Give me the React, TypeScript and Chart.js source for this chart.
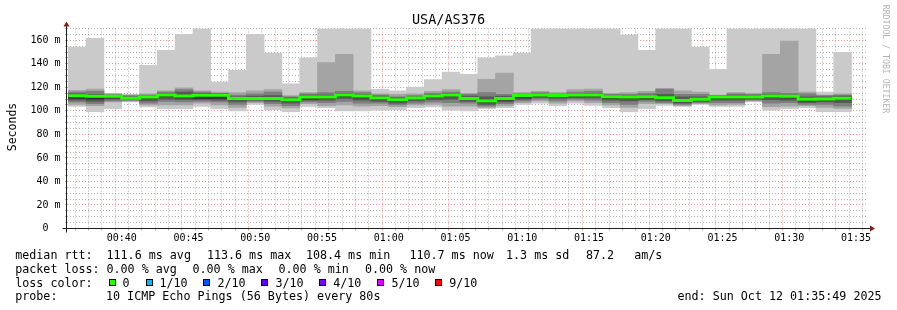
import React, { useEffect, useRef } from 'react';
import { Chart, registerables } from 'chart.js';

Chart.register(...registerables);

// ---- data (seconds since 00:00, values in ms) ----
const stepStarts = [2160, 2240, 2320, 2400, 2480, 2560, 2640, 2720, 2800, 2880, 2960, 3040, 3120, 3200, 3280, 3360, 3440, 3520, 3600, 3680, 3760, 3840, 3920, 4000, 4080, 4160, 4240, 4320, 4400, 4480, 4560, 4640, 4720, 4800, 4880, 4960, 5040, 5120, 5200, 5280, 5360, 5440, 5520, 5600];
const stepSeconds = 80;

const medianMs = [112.8, 112.4, 112.4, 110.7, 111.8, 113.5, 112.7, 113.2, 113.2, 110.4, 110.4, 110.4, 109.5, 111.8, 111.8, 113.5, 112.7, 111.0, 109.5, 111.0, 112.7, 113.5, 110.4, 108.4, 110.4, 113.0, 113.5, 113.0, 113.5, 113.5, 112.0, 111.8, 112.0, 111.2, 108.7, 109.8, 111.8, 111.8, 111.8, 112.7, 112.4, 109.8, 110.1, 110.7];
const maxMs = [154.3, 161.7, 115, 114, 138.7, 151.5, 165, 170, 124.5, 134.5, 165, 149, 123, 145, 170, 170, 170, 118.3, 117, 120.3, 126.5, 133, 131, 145, 146.7, 149, 170, 170, 170, 170, 170, 164.5, 151.5, 170, 170, 154.3, 135.3, 170, 170, 170, 170, 170, 116, 149.8];
const p9Ms = [117.5, 118.5, 114.5, 113.5, 114.5, 117.0, 119.5, 117.0, 116.0, 115.5, 117.0, 118.0, 113.0, 115.5, 141.0, 148.0, 117.0, 114.5, 114.0, 114.5, 116.5, 118.0, 115.0, 126.8, 132.2, 115.5, 116.5, 115.5, 118.0, 118.5, 115.0, 115.5, 116.5, 119.0, 117.0, 116.0, 113.5, 115.5, 115.0, 148.0, 159.4, 116.0, 113.5, 114.5];
const p8Ms = [116.0, 116.5, 113.8, 113.0, 113.5, 116.0, 118.0, 116.0, 115.0, 113.5, 114.5, 116.0, 112.0, 114.5, 115.5, 116.5, 115.5, 113.5, 112.0, 113.0, 115.0, 116.0, 114.0, 115.5, 114.0, 114.5, 115.5, 114.5, 116.0, 116.5, 114.0, 114.0, 115.0, 118.5, 114.0, 114.0, 113.0, 114.5, 114.0, 115.5, 115.0, 114.5, 113.0, 113.5];
const p7Ms = [114.5, 114.0, 113.2, 112.0, 112.8, 115.0, 116.0, 114.8, 114.5, 112.0, 112.5, 113.0, 111.0, 113.5, 113.5, 115.0, 114.0, 112.5, 111.0, 112.0, 114.0, 115.0, 112.5, 112.0, 112.5, 114.0, 114.5, 114.0, 114.5, 115.0, 113.2, 113.0, 113.5, 114.0, 112.0, 112.0, 112.8, 113.5, 113.0, 114.0, 113.5, 112.0, 112.0, 112.5];
const p6Ms = [113.5, 113.0, 112.8, 111.3, 112.2, 114.0, 113.5, 113.8, 113.8, 111.0, 111.0, 111.0, 110.0, 112.3, 112.3, 114.0, 113.2, 111.5, 110.0, 111.5, 113.2, 114.0, 111.0, 109.0, 111.0, 113.5, 114.0, 113.5, 114.0, 114.0, 112.5, 112.3, 112.5, 112.0, 109.5, 110.5, 112.3, 112.3, 112.3, 113.2, 112.9, 110.3, 110.6, 111.2];
const p5Ms = [110.5, 110.0, 111.0, 110.0, 110.5, 112.0, 111.0, 110.5, 110.5, 109.5, 109.8, 109.5, 108.5, 110.0, 110.5, 112.0, 111.0, 109.5, 108.0, 110.0, 111.5, 112.5, 109.5, 107.0, 109.0, 111.0, 112.5, 112.0, 112.5, 112.5, 110.5, 110.5, 110.5, 110.0, 107.5, 109.0, 110.5, 110.5, 110.8, 111.5, 111.0, 108.5, 109.0, 109.5];
const p4Ms = [109.0, 108.0, 110.0, 109.5, 108.5, 110.0, 109.5, 109.5, 109.0, 107.5, 109.0, 108.0, 106.5, 109.0, 109.0, 110.5, 109.0, 108.0, 106.5, 108.5, 109.5, 110.0, 108.0, 105.5, 107.5, 110.0, 111.5, 110.5, 111.0, 111.0, 109.0, 108.5, 109.5, 108.5, 106.5, 108.0, 109.0, 109.0, 110.0, 109.5, 109.0, 107.0, 107.5, 107.0];
const p3Ms = [107.5, 106.0, 108.5, 108.8, 106.5, 108.0, 107.5, 108.0, 107.5, 105.5, 108.0, 106.0, 104.5, 107.5, 107.0, 108.0, 106.5, 106.5, 105.0, 106.5, 107.5, 107.0, 106.5, 104.0, 106.0, 108.5, 110.0, 108.5, 110.0, 109.0, 107.0, 105.5, 108.0, 107.0, 105.5, 107.0, 107.0, 107.0, 109.0, 106.5, 107.0, 105.5, 105.5, 104.0];
const p2Ms = [105.5, 104.5, 107.5, 108.2, 105.0, 105.0, 105.0, 106.5, 105.0, 103.0, 107.0, 104.0, 102.5, 106.0, 104.5, 105.0, 104.0, 104.5, 103.5, 105.0, 105.5, 104.0, 104.0, 103.0, 104.5, 107.0, 108.5, 106.5, 108.5, 107.0, 105.0, 103.0, 106.0, 106.0, 104.5, 106.0, 105.0, 105.5, 108.5, 103.5, 104.0, 104.5, 103.0, 102.0];
const minMs = [103.8, 99.2, 101.9, 107.5, 103.3, 101.9, 101.9, 103.8, 101.9, 100.0, 105.5, 101.0, 99.2, 103.8, 102.8, 100.0, 100.0, 100.6, 101.0, 102.8, 103.3, 100.6, 100.0, 101.9, 102.8, 105.5, 106.6, 104.4, 106.6, 104.7, 102.8, 99.2, 101.9, 104.7, 103.8, 105.5, 103.8, 103.8, 107.5, 100.6, 101.9, 102.8, 99.2, 99.2];

const xMajorValues = [2400, 2700, 3000, 3300, 3600, 3900, 4200, 4500, 4800, 5100, 5400, 5700];
const xMajorLabels = ['00:40', '00:45', '00:50', '00:55', '01:00', '01:05', '01:10', '01:15', '01:20', '01:25', '01:30', '01:35'];
const yMajorValues = [0, 20, 40, 60, 80, 100, 120, 140, 160];
const yMajorLabels = ['0  ', '20 m', '40 m', '60 m', '80 m', '100 m', '120 m', '140 m', '160 m'];

const titleText = 'USA/AS376';
const yTitle = 'Seconds';
const medianLegend = ['median rtt:', '111.6 ms avg', '113.6 ms max', '108.4 ms min', '110.7 ms now', '1.3 ms sd', '87.2', 'am/s'];
const lossLegend = ['packet loss:', '0.00 % avg', '0.00 % max', '0.00 % min', '0.00 % now'];
const lossColorTitle = 'loss color:';
const lossLabels = ['0', '1/10', '2/10', '3/10', '4/10', '5/10', '9/10'];
const lossColors = ['#26ff00', '#00b8ff', '#0059ff', '#5e00ff', '#7e00ff', '#dd00ff', '#ff0000'];
const probeLegend = ['probe:', '10 ICMP Echo Pings (56 Bytes) every 80s'];
const endText = 'end: Sun Oct 12 01:35:49 2025';
const watermark = 'RRDTOOL / TOBI OETIKER';

const smokeGreys = ['#cacaca', '#a4a4a4', '#7e7e7e', '#585858', '#323232'];

const FONT = "'DejaVu Sans Mono', monospace";
const MINOR_GRID = 'rgba(143,143,143,0.7)';
const MAJOR_GRID = 'rgba(222,79,79,0.6)';
const X_MIN = 2154;
const X_MAX = 5754;
const PLOT_WIDTH = 801;

const overlayPlugin = {
  id: 'rrdOverlay',
  afterDraw(chart: any) {
    const c = chart.ctx as CanvasRenderingContext2D;
    const area = chart.chartArea;
    const L = Math.floor(area.left) - 0.5;
    const B = area.bottom;
    const T = area.top;
    const R = area.right;
    c.save();
    // axes
    c.strokeStyle = '#1f1f1f';
    c.lineWidth = 1;
    c.beginPath();
    c.moveTo(L - 4, B);
    c.lineTo(R + 4, B);
    c.moveTo(L, B + 4);
    c.lineTo(L, T - 4);
    c.stroke();
    c.fillStyle = '#801f1f';
    c.beginPath();
    c.moveTo(R + 2, B - 3);
    c.lineTo(R + 2, B + 3);
    c.lineTo(R + 7, B);
    c.closePath();
    c.fill();
    c.beginPath();
    c.moveTo(L - 3, T - 2);
    c.lineTo(L + 3, T - 2);
    c.lineTo(L, T - 7);
    c.closePath();
    c.fill();

    // title
    c.fillStyle = '#000';
    c.font = `13.5px ${FONT}`;
    c.textAlign = 'center';
    c.textBaseline = 'alphabetic';
    c.fillText(titleText, 448.5, 24);

    // y title
    c.save();
    c.translate(15.5, 127);
    c.rotate(-Math.PI / 2);
    c.font = `11.5px ${FONT}`;
    c.textAlign = 'center';
    c.fillText(yTitle, 0, 0);
    c.restore();

    // watermark
    c.save();
    c.translate(883, 59);
    c.rotate(Math.PI / 2);
    c.font = `8.2px ${FONT}`;
    c.fillStyle = '#b4b4b4';
    c.textAlign = 'center';
    c.textBaseline = 'alphabetic';
    c.fillText(watermark, 0, 0);
    c.restore();

    // legend
    c.font = `11.7px ${FONT}`;
    c.textAlign = 'left';
    c.textBaseline = 'alphabetic';
    c.fillStyle = '#000';
    const row1 = [15.2, 106.5, 206.9, 305.9, 409.4, 506.0, 585.9, 634.2];
    medianLegend.forEach((t, i) => c.fillText(t, row1[i], 258.5));
    const row2 = [15.2, 106.5, 192.5, 278.5, 364.9];
    lossLegend.forEach((t, i) => c.fillText(t, row2[i], 272.5));
    c.fillText(lossColorTitle, 15.2, 286.5);
    const boxX = [109, 146, 203, 261, 319, 377, 435];
    const labX = [122.5, 159.4, 217.5, 275.5, 333.2, 391.5, 449.2];
    lossLabels.forEach((t, i) => {
      c.fillStyle = lossColors[i];
      c.fillRect(boxX[i], 279, 7, 7);
      c.strokeStyle = '#000';
      c.lineWidth = 1;
      c.strokeRect(boxX[i] + 0.5, 279.5, 6, 6);
      c.fillStyle = '#000';
      c.fillText(t, labX[i], 286.5);
    });
    c.fillText(probeLegend[0], 15.2, 300.3);
    c.fillText(probeLegend[1], 106.0, 300.3);
    c.fillText(endText, 677.5, 300.3);
    c.restore();
  },
};

function band(lo: number[], hi: number[], color: string, order: number) {
  return {
    type: 'bar' as const,
    data: stepStarts.map((t, i) => ({ x: t + stepSeconds / 2, y: [lo[i], hi[i]] })),
    backgroundColor: color,
    borderWidth: 0,
    barThickness: (PLOT_WIDTH * stepSeconds) / (X_MAX - X_MIN),
    grouped: false,
    order,
  };
}

export default function App() {
  const ref = useRef<HTMLCanvasElement>(null);
  useEffect(() => {
    if (!ref.current) return;
    const last = stepStarts.length - 1;
    const medianData = stepStarts.map((t, i) => ({ x: t, y: medianMs[i] }));
    medianData.push({ x: stepStarts[last] + stepSeconds, y: medianMs[last] });
    const chart = new Chart(ref.current, {
      type: 'bar',
      data: {
        datasets: [
          {
            type: 'line',
            data: medianData,
            borderColor: '#26ff00',
            borderWidth: 3,
            pointRadius: 0,
            stepped: true,
            fill: false,
            order: 0,
          } as any,
          band(p5Ms, p6Ms, smokeGreys[4], 1),
          band(p4Ms, p7Ms, smokeGreys[3], 2),
          band(p3Ms, p8Ms, smokeGreys[2], 3),
          band(p2Ms, p9Ms, smokeGreys[1], 4),
          band(minMs, maxMs, smokeGreys[0], 5),
        ] as any,
      },
      options: {
        animation: false,
        responsive: false,
        devicePixelRatio: 1,
        events: [],
        layout: { padding: { left: 0, right: 29, top: 28.5, bottom: 61.5 } },
        plugins: { legend: { display: false }, tooltip: { enabled: false }, title: { display: false } },
        scales: {
          x: {
            type: 'linear',
            min: X_MIN,
            max: X_MAX,
            offset: false,
            z: 1,
            afterBuildTicks: (s: any) => {
              const t: any[] = [];
              for (let v = 2160; v <= 5700; v += 60) t.push({ value: v });
              s.ticks = t;
            },
            afterFit: (s: any) => {
              s.height = 20;
              s.paddingLeft = 0;
              s.paddingRight = 0;
            },
            grid: {
              color: (ctx: any) => (ctx.tick && ctx.tick.value % 300 === 0 ? MAJOR_GRID : MINOR_GRID),
              lineWidth: 1,
              tickLength: 2,
              drawTicks: true,
            },
            border: { display: false, dash: [1, 2] },
            ticks: {
              autoSkip: false,
              maxRotation: 0,
              minRotation: 0,
              padding: 2,
              color: '#000',
              font: { family: FONT, size: 10 },
              callback: (v: any) => {
                const i = xMajorValues.indexOf(Number(v));
                return i >= 0 ? xMajorLabels[i] : '';
              },
            },
          },
          y: {
            type: 'linear',
            min: 0,
            max: 170,
            z: 1,
            afterBuildTicks: (s: any) => {
              const t: any[] = [];
              for (let v = 0; v <= 170; v += 5) t.push({ value: v });
              s.ticks = t;
            },
            afterFit: (s: any) => {
              s.width = 67;
              s.paddingTop = 0;
              s.paddingBottom = 0;
            },
            grid: {
              color: (ctx: any) => (ctx.tick && ctx.tick.value % 20 === 0 ? MAJOR_GRID : MINOR_GRID),
              lineWidth: 1,
              tickLength: 2,
              drawTicks: true,
            },
            border: { display: false, dash: [1, 2] },
            ticks: {
              autoSkip: false,
              padding: 4.5,
              color: '#000',
              font: { family: FONT, size: 10 },
              callback: (v: any) => {
                const i = yMajorValues.indexOf(Number(v));
                return i >= 0 ? yMajorLabels[i] : '';
              },
            },
          },
        },
      } as any,
      plugins: [overlayPlugin],
    });
    return () => chart.destroy();
  }, []);
  return (
    <div style={{ position: 'absolute', left: 0, top: 0, width: 897, height: 310, background: '#fff' }}>
      <canvas ref={ref} width={897} height={310} style={{ display: 'block' }} />
    </div>
  );
}
